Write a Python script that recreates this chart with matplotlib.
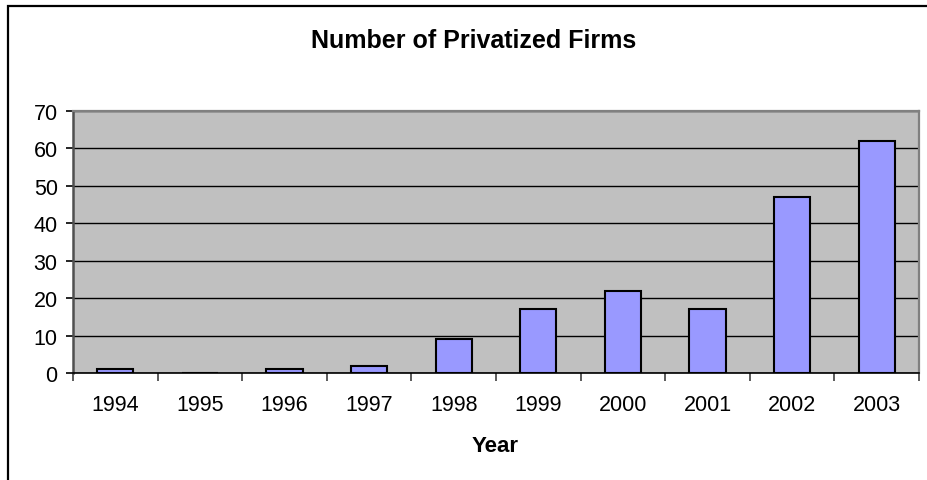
import matplotlib
matplotlib.use("Agg")
import matplotlib.pyplot as plt
from matplotlib.patches import Rectangle

years = ["1994", "1995", "1996", "1997", "1998", "1999", "2000", "2001", "2002", "2003"]
firms = [1, 0, 1, 2, 9, 17, 22, 17, 47, 62]
yticks = [0, 10, 20, 30, 40, 50, 60, 70]

plt.rcParams['font.family'] = ['Liberation Sans', 'DejaVu Sans']

W, H = 928, 481
fig = plt.figure(figsize=(W / 100, H / 100), dpi=100)

# outer chart border (left and top visible)
fig.patches.append(Rectangle((8 / W, -0.1), 1.2, 1 - 7 / H + 0.1, transform=fig.transFigure,
                             fill=False, edgecolor='black', linewidth=1.6, zorder=0))

left, right, top, bottom = 73, 919, 112, 374
ax = fig.add_axes([left / W, 1 - bottom / H, (right - left) / W, (bottom - top) / H])
ax.set_facecolor('#C0C0C0')

x = list(range(len(years)))
ax.bar(x, firms, width=0.43, color='#9999FF', edgecolor='black', linewidth=1.5, zorder=3)

ax.set_xlim(-0.5, len(years) - 0.5)
ax.set_ylim(0, 70)
ax.set_yticks(yticks)
ax.set_yticklabels([str(v) for v in yticks], fontsize=15.5)
ax.set_xticks(x)
ax.set_xticklabels(years, fontsize=15.5)
ax.tick_params(axis='x', length=0, pad=15)
ax.set_xticks([i - 0.5 for i in range(len(years) + 1)], minor=True)
ax.tick_params(axis='x', which='minor', length=6, width=1.2, color='#404040', direction='out')
ax.tick_params(axis='y', length=5, width=1.2, color='black', direction='out', pad=6)

ax.yaxis.grid(True, color='black', linewidth=1.0, zorder=1)
ax.set_axisbelow(True)

for side in ['top', 'right']:
    ax.spines[side].set_color('#808080')
    ax.spines[side].set_linewidth(1.6)
ax.spines['left'].set_color('#505050')
ax.spines['left'].set_linewidth(1.8)
ax.spines['bottom'].set_color('black')
ax.spines['bottom'].set_linewidth(1.2)

fig.text(495.5 / W, 1 - 452 / H, 'Year', ha='center', va='baseline',
         fontsize=16, fontweight='bold')
fig.text(473.5 / W, 1 - 48 / H, 'Number of Privatized Firms',
         ha='center', va='baseline', fontsize=18, fontweight='bold')

fig.savefig('out.png', dpi=100)
